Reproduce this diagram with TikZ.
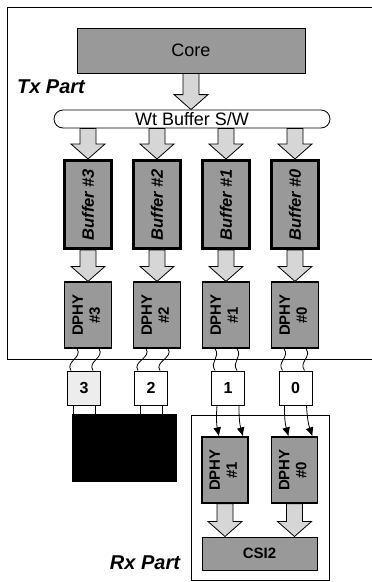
\documentclass[tikz,border=0pt]{standalone}
\usepackage{fontspec}
\setmainfont{Liberation Sans}
\usetikzlibrary{calc,arrows.meta}
\definecolor{boxgray}{gray}{0.60}
\definecolor{arrowgray}{gray}{0.84}
\definecolor{lightgray}{gray}{0.93}

\tikzset{
  frame/.style={draw, line width=0.8pt},
  graybox/.style={draw, fill=boxgray, inner sep=0pt},
  corebox/.style={graybox, line width=0.8pt, minimum width=228pt, minimum height=45pt, font=\fontsize{18}{20}\selectfont},
  barbox/.style={draw, fill=white, line width=0.8pt, rounded corners=9pt, inner sep=0pt, minimum width=276pt, minimum height=18pt, font=\fontsize{18}{19}\selectfont},
  bufbox/.style={graybox, line width=3pt, minimum width=47pt, minimum height=88pt, font=\fontsize{16.5}{18}\selectfont\bfseries\itshape},
  dphybox/.style={graybox, line width=1.2pt, minimum width=47pt, minimum height=66pt, font=\fontsize{15}{17}\selectfont\bfseries},
  numbox/.style={draw, fill=white, line width=1pt, inner sep=0pt, minimum width=33pt, minimum height=34pt, font=\fontsize{16}{18}\selectfont\bfseries},
  csibox/.style={graybox, line width=1pt, minimum width=115pt, minimum height=33pt, font=\fontsize{15}{17}\selectfont\bfseries},
  partlabel/.style={font=\fontsize{20}{22}\selectfont\bfseries\itshape},
  fatarrow/.style={draw, fill=arrowgray, line width=0.8pt, line join=miter},
  wire/.style={draw, line width=0.8pt},
  link/.style={draw, line width=0.8pt, -{Latex[length=9pt,width=8pt]}}
}

% block arrow from a top point (#1) down to a tip (#2)
\newcommand{\fatarrow}[2]{%
  \draw[fatarrow] let \p1=(#1), \p2=(#2) in
    (\x1-8pt,\y1) -- (\x1+8pt,\y1) -- (\x1+8pt,\y2+15pt) -- (\x1+17pt,\y2+15pt)
    -- (\x1,\y2) -- (\x1-17pt,\y2+15pt) -- (\x1-8pt,\y2+15pt) -- cycle;}

\begin{document}
\begin{tikzpicture}[x=1pt,y=-1pt]
  \useasboundingbox (0,0) rectangle (372,582);

  % Tx part
  \draw[frame] (372,7) -- (7,7) -- (7,359) -- (372,359);
  \node[partlabel] (txlabel) at (51,87) {Tx Part};
  \node[corebox] (core) at (191,50.5) {Core};
  \node[barbox] (bar) at (192,119) {Wt Buffer S/W};
  \fatarrow{core.south}{bar.north}

  \foreach \i/\x in {3/88,2/157,1/226,0/295} {
    \node[bufbox] (buf\i) at (\x,204.5) {\rotatebox{90}{Buffer \#\i}};
    \node[dphybox] (dphy\i) at (\x,315) {\rotatebox{90}{\begin{tabular}{@{}c@{}}DPHY\\\#\i\end{tabular}}};
    \coordinate (tap\i) at (bar.south -| buf\i.north);
    \fatarrow{tap\i}{buf\i.north}
    \fatarrow{buf\i.south}{dphy\i.north}
  }

  % lanes
  \node[numbox, fill=lightgray] (num3) at (84,388) {3};
  \node[numbox] (num2) at (151,388) {2};
  \node[numbox] (num1) at (228,388) {1};
  \node[numbox] (num0) at (295.5,388) {0};
  \foreach \i in {3,2,1,0} {
    \draw[wire] ([xshift=-11pt]dphy\i.south) .. controls +(6,9) and +(-6,-9) .. ([xshift=-13pt]num\i.north);
    \draw[wire] ([xshift=11pt]dphy\i.south) .. controls +(6,9) and +(-6,-9) .. ([xshift=9pt]num\i.north);
  }

  % unused lanes
  \node[fill=black, inner sep=0pt, minimum width=105pt, minimum height=68pt] (sink) at (124.5,448) {};
  \foreach \i in {3,2}
    \foreach \d in {-11,11}
      \draw[wire] ([xshift=\d pt]num\i.south) -- ([xshift=\d pt]num\i.south |- sink.north);

  % Rx part
  \node[frame, minimum width=138pt, minimum height=165pt] (rxframe) at (260,497.5) {};
  \node[partlabel] (rxlabel) at (145,563) {Rx Part};
  \node[dphybox, minimum width=46pt] (rdphy1) at (225,470) {\rotatebox{90}{\begin{tabular}{@{}c@{}}DPHY\\\#1\end{tabular}}};
  \node[dphybox, minimum width=46pt] (rdphy0) at (294.5,470) {\rotatebox{90}{\begin{tabular}{@{}c@{}}DPHY\\\#0\end{tabular}}};
  \node[csibox] (csi) at (259.5,553.5) {CSI2};
  \foreach \i in {1,0} {
    \draw[link] ([xshift=-11pt]num\i.south) to[bend right=8] ([xshift=-6pt]rdphy\i.north);
    \draw[link] ([xshift=11pt]num\i.south) to[bend right=8] ([xshift=18pt]rdphy\i.north);
    \coordinate (csitap\i) at (csi.north -| rdphy\i.south);
    \fatarrow{rdphy\i.south}{csitap\i}
  }
\end{tikzpicture}
\end{document}
